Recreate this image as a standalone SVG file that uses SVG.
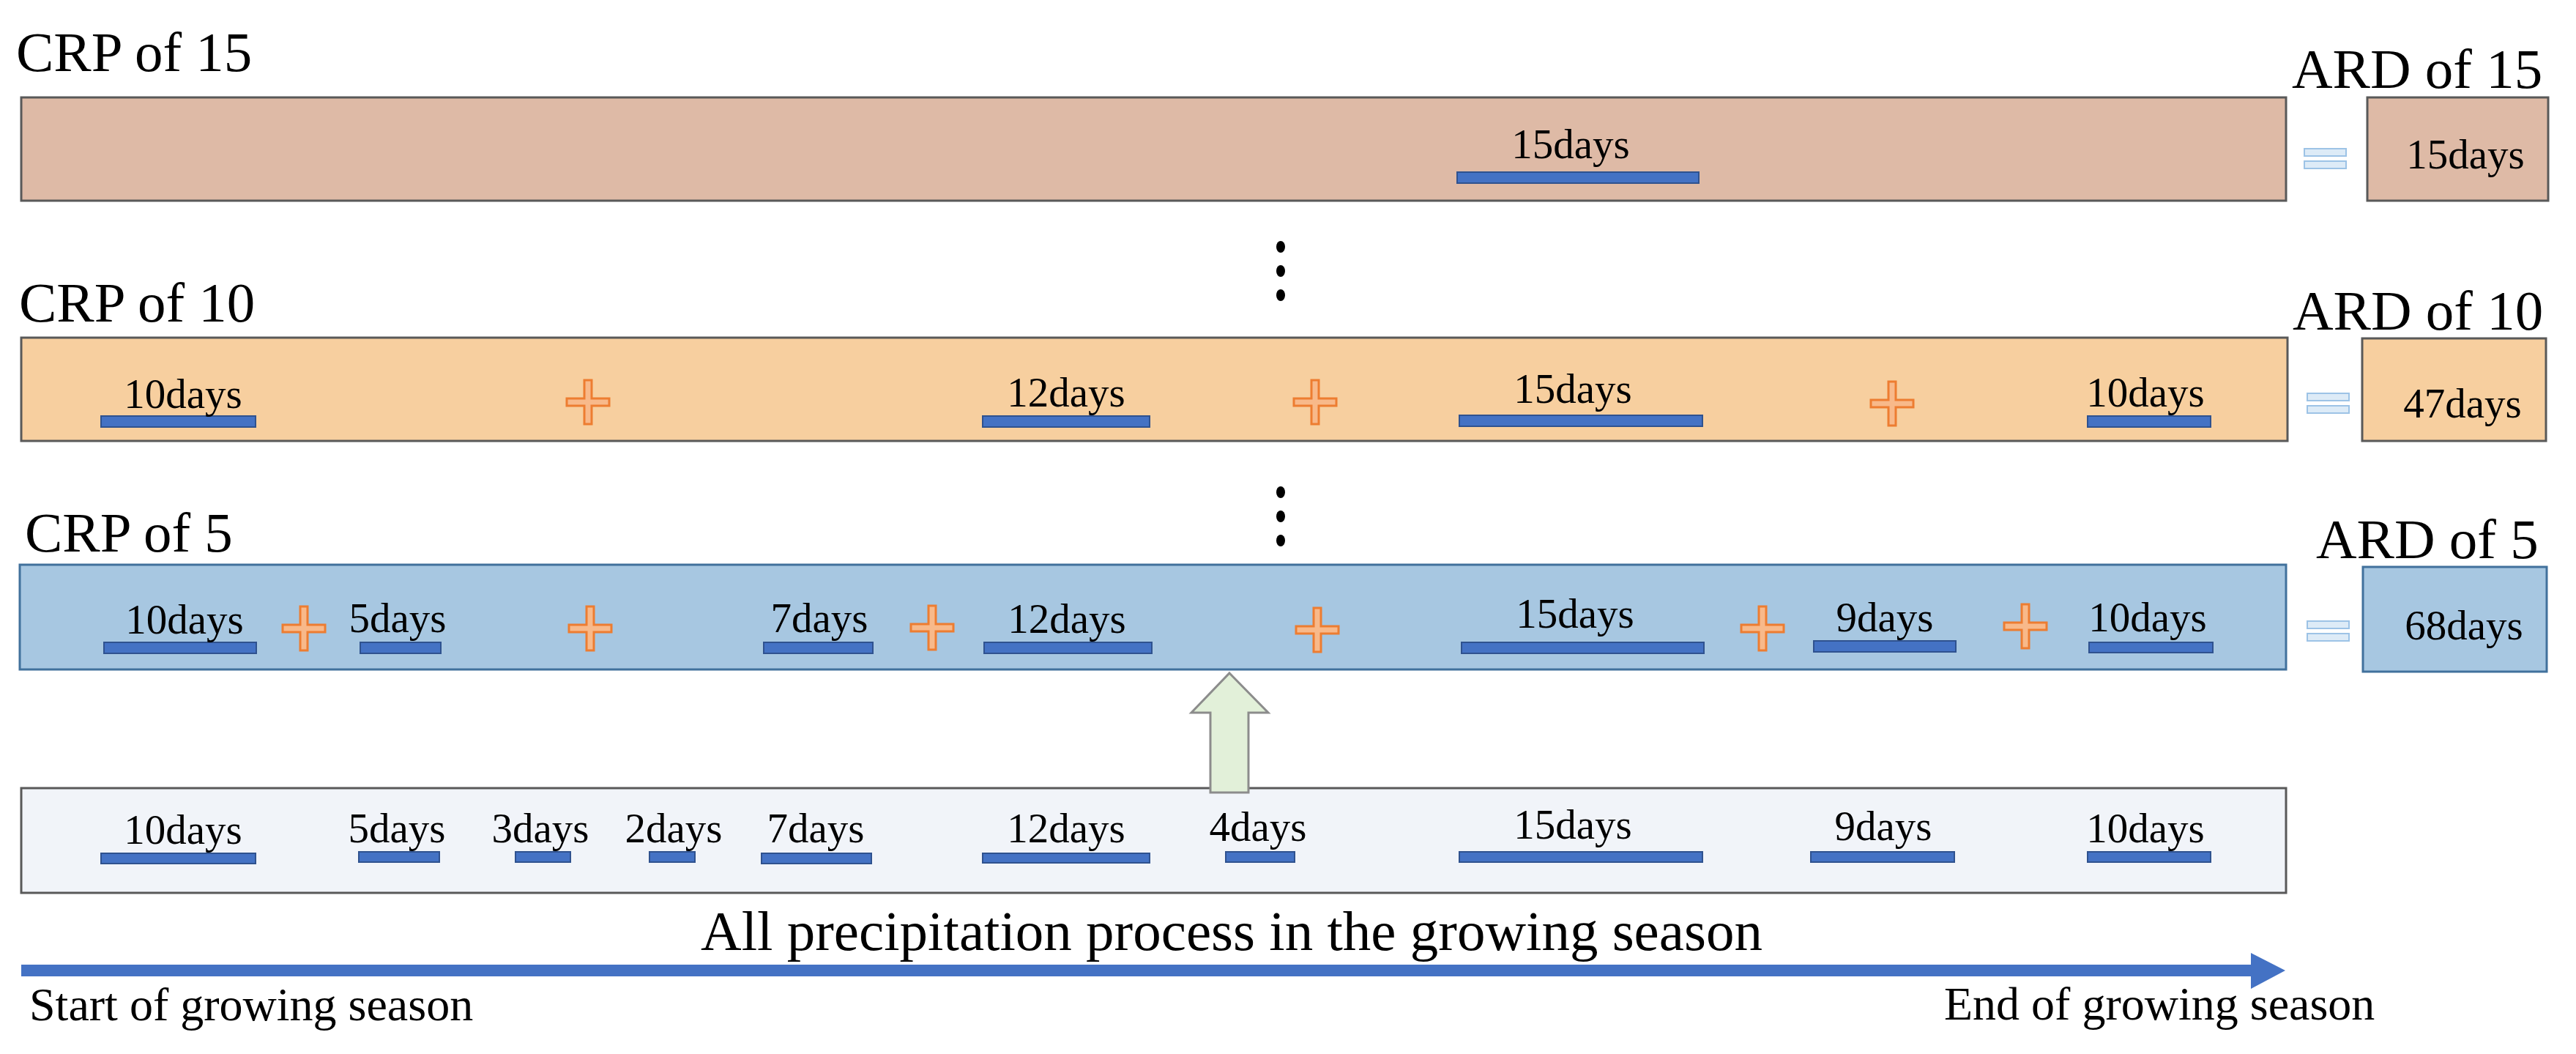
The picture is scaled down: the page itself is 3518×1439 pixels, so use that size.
<svg xmlns="http://www.w3.org/2000/svg" xmlns:xlink="http://www.w3.org/1999/xlink" width="3518" height="1439" viewBox="0 0 3518 1439">
<style>
.t{font-family:"Liberation Serif","Times New Roman",serif;fill:#000}
.big{font-size:77px}
.d{font-size:57px;text-anchor:middle}
.foot{font-size:64px}
.bar{fill:#4472C4;stroke:#2F528F;stroke-width:2}
.r1{fill:#DEBAA6;stroke:#595959;stroke-width:3}
.r2{fill:#F7CF9F;stroke:#595959;stroke-width:3}
.r3{fill:#A7C7E1;stroke:#41719C;stroke-width:3}
.r4{fill:#F1F4F9;stroke:#595959;stroke-width:3}
.pl{fill:#F8B98A;stroke:#ED7D31;stroke-width:3}
.eq{fill:#DDEBF7;stroke:#9DC3E6;stroke-width:2}
.dot{fill:#000}
</style>
<defs>
<path id="plus" d="M -5 -30 H 5 V -5 H 29 V 5 H 5 V 30 H -5 V 5 H -29 V -5 H -5 Z"/>
<g id="eqs"><rect x="0" y="0" width="57" height="10"/><rect x="0" y="17" width="57" height="10"/></g>
</defs>
<rect width="3518" height="1439" fill="#fff"/>

<g id="row-crp15">
<text class="t big" x="22" y="97">CRP of 15</text>
<rect class="r1" x="29" y="133" width="3093" height="141"/>
<rect class="bar" x="1990" y="235" width="330" height="15"/>
<text class="t d" x="2145" y="216">15days</text>
</g>
<g id="ard15">
<text class="t big" x="3130" y="120">ARD of 15</text>
<use href="#eqs" class="eq" x="3147" y="203"/>
<rect class="r1" x="3233" y="133" width="247" height="141"/>
<text class="t d" x="3367" y="230">15days</text>
</g>

<g id="dots-upper">
<ellipse class="dot" cx="1749" cy="337" rx="6" ry="8"/>
<ellipse class="dot" cx="1749" cy="370" rx="6" ry="8"/>
<ellipse class="dot" cx="1749" cy="403" rx="6" ry="8"/>
</g>

<g id="row-crp10">
<text class="t big" x="26" y="439">CRP of 10</text>
<rect class="r2" x="29" y="461" width="3095" height="141"/>
<rect class="bar" x="138" y="568" width="211" height="15"/>
<rect class="bar" x="1342" y="568" width="228" height="15"/>
<rect class="bar" x="1993" y="567" width="332" height="15"/>
<rect class="bar" x="2851" y="568" width="168" height="15"/>
<text class="t d" x="250" y="557">10days</text>
<text class="t d" x="1456" y="555">12days</text>
<text class="t d" x="2148" y="550">15days</text>
<text class="t d" x="2930" y="555">10days</text>
<use href="#plus" class="pl" x="803" y="549"/>
<use href="#plus" class="pl" x="1796" y="549"/>
<use href="#plus" class="pl" x="2584" y="551"/>
</g>
<g id="ard10">
<text class="t big" x="3131" y="450">ARD of 10</text>
<use href="#eqs" class="eq" x="3151" y="537"/>
<rect class="r2" x="3226" y="462" width="251" height="140"/>
<text class="t d" x="3363" y="570">47days</text>
</g>

<g id="dots-lower">
<ellipse class="dot" cx="1749" cy="672" rx="6" ry="8"/>
<ellipse class="dot" cx="1749" cy="705" rx="6" ry="8"/>
<ellipse class="dot" cx="1749" cy="738" rx="6" ry="8"/>
</g>

<g id="row-crp5">
<text class="t big" x="34" y="753">CRP of 5</text>
<rect class="r3" x="27" y="771" width="3095" height="143"/>
<rect class="bar" x="142" y="877" width="208" height="15"/>
<rect class="bar" x="492" y="877" width="110" height="15"/>
<rect class="bar" x="1043" y="877" width="149" height="15"/>
<rect class="bar" x="1344" y="877" width="229" height="15"/>
<rect class="bar" x="1996" y="877" width="331" height="15"/>
<rect class="bar" x="2477" y="875" width="194" height="15"/>
<rect class="bar" x="2853" y="877" width="169" height="14"/>
<text class="t d" x="252" y="865">10days</text>
<text class="t d" x="543" y="863">5days</text>
<text class="t d" x="1119" y="863">7days</text>
<text class="t d" x="1457" y="864">12days</text>
<text class="t d" x="2151" y="857">15days</text>
<text class="t d" x="2574" y="862">9days</text>
<text class="t d" x="2933" y="862">10days</text>
<use href="#plus" class="pl" x="415" y="858"/>
<use href="#plus" class="pl" x="806" y="858"/>
<use href="#plus" class="pl" x="1273" y="857"/>
<use href="#plus" class="pl" x="1799" y="860"/>
<use href="#plus" class="pl" x="2407" y="858"/>
<use href="#plus" class="pl" x="2766" y="855"/>
</g>
<g id="ard5">
<text class="t big" x="3163" y="762">ARD of 5</text>
<use href="#eqs" class="eq" x="3151" y="848"/>
<rect class="r3" x="3227" y="774" width="251" height="143"/>
<text class="t d" x="3365" y="873">68days</text>
</g>

<g id="row-all">
<rect class="r4" x="29" y="1076" width="3093" height="143"/>
<rect class="bar" x="138" y="1165" width="211" height="14"/>
<rect class="bar" x="490" y="1163" width="110" height="14"/>
<rect class="bar" x="704" y="1163" width="75" height="14"/>
<rect class="bar" x="887" y="1163" width="62" height="14"/>
<rect class="bar" x="1040" y="1165" width="150" height="14"/>
<rect class="bar" x="1342" y="1165" width="228" height="13"/>
<rect class="bar" x="1674" y="1163" width="94" height="14"/>
<rect class="bar" x="1993" y="1163" width="332" height="14"/>
<rect class="bar" x="2473" y="1163" width="196" height="14"/>
<rect class="bar" x="2851" y="1163" width="168" height="14"/>
<text class="t d" x="250" y="1152">10days</text>
<text class="t d" x="542" y="1150">5days</text>
<text class="t d" x="738" y="1150">3days</text>
<text class="t d" x="920" y="1150">2days</text>
<text class="t d" x="1114" y="1150">7days</text>
<text class="t d" x="1456" y="1150">12days</text>
<text class="t d" x="1718" y="1148">4days</text>
<text class="t d" x="2148" y="1145">15days</text>
<text class="t d" x="2572" y="1147">9days</text>
<text class="t d" x="2930" y="1150">10days</text>
</g>

<g id="connectors">
<path d="M 1679 919 L 1732 973 L 1705 973 L 1705 1082 L 1653 1082 L 1653 973 L 1627 973 Z" fill="#E2F0D9" stroke="#8C8C8C" stroke-width="3"/>
<path d="M 29 1317 H 3074 V 1301 L 3121 1325 L 3074 1350 V 1333 H 29 Z" fill="#4472C4"/>
</g>

<g id="timeline-labels">
<text class="t big" x="1682" y="1297" text-anchor="middle">All precipitation process in the growing season</text>
<text class="t foot" x="40" y="1393">Start of growing season</text>
<text class="t foot" x="2655" y="1392">End of growing season</text>
</g>
</svg>
